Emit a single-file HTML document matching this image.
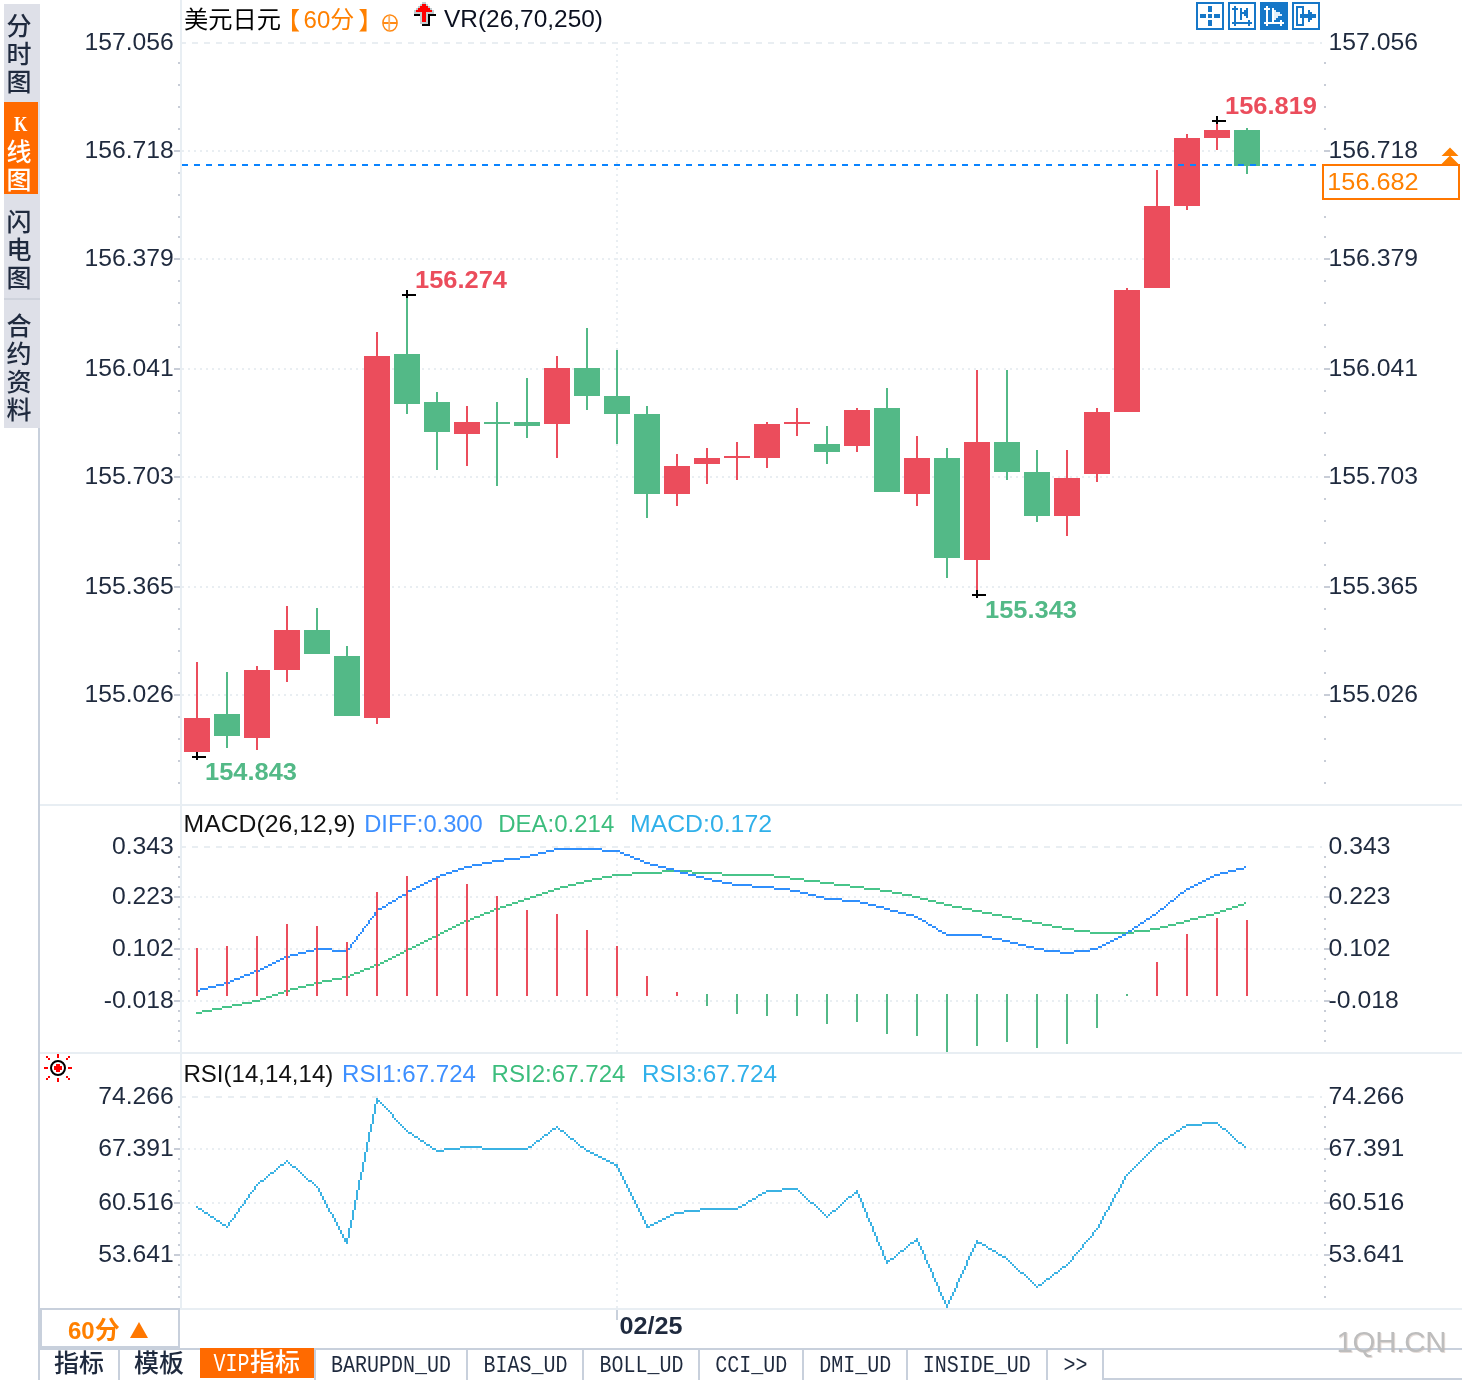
<!DOCTYPE html>
<html lang="zh-CN">
<head>
<meta charset="utf-8">
<title>美元日元 60分 K线图</title>
<style>
html,body{margin:0;padding:0;background:#fff;width:1462px;height:1380px;overflow:hidden;}
.page{width:1462px;height:1380px;position:relative;overflow:hidden;background:#fff;font-family:"Liberation Sans","Noto Sans CJK SC",sans-serif;}
.chart{position:absolute;left:0;top:0;display:block;}
.side{position:absolute;left:4px;top:4px;width:36px;height:424px;background:#dee0e8;margin:0;padding:0;list-style:none;}
.side li{position:absolute;left:0;width:34px;margin:0;padding:0;color:#1f2a3e;font-family:"Liberation Sans","Noto Sans CJK SC",sans-serif;font-size:25px;font-weight:500;line-height:28px;}
.side li span{position:absolute;left:2px;width:26px;height:28px;text-align:center;}
.side li.on{background:#ff6a00;color:#fff;}
.side li i{font:bold 22px/28px "Liberation Serif",serif;display:inline-block;transform:scaleX(.78);position:relative;top:-2.5px;left:1.5px;}
.side li.sep{left:0;width:36px;height:2px;background:#cfd3dc;}
.period{position:absolute;left:38px;top:1308px;width:142px;height:40px;border:solid #c8d0dc;border-width:2px 2px 2px 4px;box-sizing:border-box;background:#fff;color:#ff8000;font-weight:bold;font-size:24px;line-height:28px;white-space:nowrap;}
.period b{position:absolute;left:26px;top:6px;}
.period b span{font-size:25px;font-weight:bold;}
.period i{position:absolute;left:88px;top:12px;width:0;height:0;border-left:9px solid transparent;border-right:9px solid transparent;border-bottom:16px solid #ff7700;}
.tabs{position:absolute;left:38px;top:1348px;height:32px;width:1424px;border-top:2px solid #c8d0dc;box-sizing:border-box;margin:0;padding:0;list-style:none;}
.tabs li{position:absolute;top:0;height:30px;border-left:2px solid #c8d0dc;box-sizing:border-box;font-family:"Liberation Mono","Noto Sans CJK SC",monospace;font-size:24px;line-height:30px;color:#1f2a3e;text-align:center;white-space:nowrap;margin:0;padding:0;}
.tabs li span{display:inline-block;transform:scaleX(.8333);transform-origin:50% 50%;position:relative;top:1px;}
.tabs li.c{font-family:"Liberation Mono","Noto Sans CJK SC",sans-serif;font-size:25px;font-weight:500;}
.tabs li.c span{transform:none;top:1px;}
.tabs li.on{background:#ff6a00;color:#fff;border-left:0;top:-2px;height:30px;}
.tabs li.on span{top:2px;}
.tabs li em{display:inline-block;font-style:normal;transform:scaleX(.8);margin:0 -4.5px;}
.wm{position:absolute;left:1336.5px;top:1325px;font-size:29.5px;line-height:34px;letter-spacing:-.3px;color:#bdbdbd;text-shadow:1px 1px 0 rgba(200,180,170,.45);white-space:nowrap;}
.tabs li.rest{right:0;border-bottom:2px solid #c8d0dc;}
</style>
</head>
<body>
<main class="page">
<svg class="chart" width="1462" height="1380" viewBox="0 0 1462 1380" shape-rendering="crispEdges" font-family='"Liberation Sans", "Noto Sans CJK SC", sans-serif'>
<rect x="40" y="804" width="1422" height="2" fill="#e8eef3"/>
<rect x="40" y="1052" width="1422" height="2" fill="#e8eef3"/>
<rect x="40" y="1308" width="1422" height="2" fill="#e8eef3"/>
<rect x="38" y="428" width="2" height="948" fill="#c8d0dc"/>
<g id="grid">
<path d="M180 43H1322" stroke="#e9eef2" stroke-width="2" stroke-dasharray="6 6" fill="none"/>
<path d="M182 151H1322" stroke="#e9eef2" stroke-width="2" stroke-dasharray="2 4" fill="none"/>
<path d="M182 259H1322" stroke="#e9eef2" stroke-width="2" stroke-dasharray="2 4" fill="none"/>
<path d="M182 369H1322" stroke="#e9eef2" stroke-width="2" stroke-dasharray="2 4" fill="none"/>
<path d="M182 477H1322" stroke="#e9eef2" stroke-width="2" stroke-dasharray="2 4" fill="none"/>
<path d="M182 587H1322" stroke="#e9eef2" stroke-width="2" stroke-dasharray="2 4" fill="none"/>
<path d="M182 695H1322" stroke="#e9eef2" stroke-width="2" stroke-dasharray="2 4" fill="none"/>
<path d="M180 847H1322" stroke="#e9eef2" stroke-width="2" stroke-dasharray="6 6" fill="none"/>
<path d="M182 897H1322" stroke="#e9eef2" stroke-width="2" stroke-dasharray="2 4" fill="none"/>
<path d="M182 949H1322" stroke="#e9eef2" stroke-width="2" stroke-dasharray="2 4" fill="none"/>
<path d="M182 1001H1322" stroke="#e9eef2" stroke-width="2" stroke-dasharray="2 4" fill="none"/>
<path d="M180 1097H1322" stroke="#e9eef2" stroke-width="2" stroke-dasharray="6 6" fill="none"/>
<path d="M182 1149H1322" stroke="#e9eef2" stroke-width="2" stroke-dasharray="2 4" fill="none"/>
<path d="M182 1203H1322" stroke="#e9eef2" stroke-width="2" stroke-dasharray="2 4" fill="none"/>
<path d="M182 1255H1322" stroke="#e9eef2" stroke-width="2" stroke-dasharray="2 4" fill="none"/>
<path d="M617 48V802" stroke="#e9eef2" stroke-width="2" stroke-dasharray="2 4" fill="none"/>
<path d="M617 852V1052" stroke="#e9eef2" stroke-width="2" stroke-dasharray="2 4" fill="none"/>
<path d="M617 1102V1308" stroke="#e9eef2" stroke-width="2" stroke-dasharray="2 4" fill="none"/>
<rect x="616" y="1310" width="2" height="10" fill="#c9d1dc"/>
</g>
<rect x="180" y="0" width="2" height="1308" fill="#e8eef3"/>
<g id="ticks" fill="#c8cdd7">
<rect x="178" y="62" width="2" height="2"/>
<rect x="1324" y="62" width="2" height="2"/>
<rect x="178" y="84" width="2" height="2"/>
<rect x="1324" y="84" width="2" height="2"/>
<rect x="178" y="106" width="2" height="2"/>
<rect x="1324" y="106" width="2" height="2"/>
<rect x="178" y="128" width="2" height="2"/>
<rect x="1324" y="128" width="2" height="2"/>
<rect x="174" y="150" width="6" height="2"/>
<rect x="1324" y="150" width="6" height="2"/>
<rect x="178" y="172" width="2" height="2"/>
<rect x="1324" y="172" width="2" height="2"/>
<rect x="178" y="194" width="2" height="2"/>
<rect x="1324" y="194" width="2" height="2"/>
<rect x="178" y="216" width="2" height="2"/>
<rect x="1324" y="216" width="2" height="2"/>
<rect x="178" y="236" width="2" height="2"/>
<rect x="1324" y="236" width="2" height="2"/>
<rect x="174" y="258" width="6" height="2"/>
<rect x="1324" y="258" width="6" height="2"/>
<rect x="178" y="280" width="2" height="2"/>
<rect x="1324" y="280" width="2" height="2"/>
<rect x="178" y="302" width="2" height="2"/>
<rect x="1324" y="302" width="2" height="2"/>
<rect x="178" y="324" width="2" height="2"/>
<rect x="1324" y="324" width="2" height="2"/>
<rect x="178" y="346" width="2" height="2"/>
<rect x="1324" y="346" width="2" height="2"/>
<rect x="174" y="368" width="6" height="2"/>
<rect x="1324" y="368" width="6" height="2"/>
<rect x="178" y="390" width="2" height="2"/>
<rect x="1324" y="390" width="2" height="2"/>
<rect x="178" y="412" width="2" height="2"/>
<rect x="1324" y="412" width="2" height="2"/>
<rect x="178" y="432" width="2" height="2"/>
<rect x="1324" y="432" width="2" height="2"/>
<rect x="178" y="454" width="2" height="2"/>
<rect x="1324" y="454" width="2" height="2"/>
<rect x="174" y="476" width="6" height="2"/>
<rect x="1324" y="476" width="6" height="2"/>
<rect x="178" y="498" width="2" height="2"/>
<rect x="1324" y="498" width="2" height="2"/>
<rect x="178" y="520" width="2" height="2"/>
<rect x="1324" y="520" width="2" height="2"/>
<rect x="178" y="542" width="2" height="2"/>
<rect x="1324" y="542" width="2" height="2"/>
<rect x="178" y="564" width="2" height="2"/>
<rect x="1324" y="564" width="2" height="2"/>
<rect x="174" y="586" width="6" height="2"/>
<rect x="1324" y="586" width="6" height="2"/>
<rect x="178" y="608" width="2" height="2"/>
<rect x="1324" y="608" width="2" height="2"/>
<rect x="178" y="628" width="2" height="2"/>
<rect x="1324" y="628" width="2" height="2"/>
<rect x="178" y="650" width="2" height="2"/>
<rect x="1324" y="650" width="2" height="2"/>
<rect x="178" y="672" width="2" height="2"/>
<rect x="1324" y="672" width="2" height="2"/>
<rect x="174" y="694" width="6" height="2"/>
<rect x="1324" y="694" width="6" height="2"/>
<rect x="178" y="716" width="2" height="2"/>
<rect x="1324" y="716" width="2" height="2"/>
<rect x="178" y="738" width="2" height="2"/>
<rect x="1324" y="738" width="2" height="2"/>
<rect x="178" y="760" width="2" height="2"/>
<rect x="1324" y="760" width="2" height="2"/>
<rect x="178" y="782" width="2" height="2"/>
<rect x="1324" y="782" width="2" height="2"/>
<rect x="178" y="856" width="2" height="2"/>
<rect x="1324" y="856" width="2" height="2"/>
<rect x="178" y="866" width="2" height="2"/>
<rect x="1324" y="866" width="2" height="2"/>
<rect x="178" y="876" width="2" height="2"/>
<rect x="1324" y="876" width="2" height="2"/>
<rect x="178" y="886" width="2" height="2"/>
<rect x="1324" y="886" width="2" height="2"/>
<rect x="174" y="896" width="6" height="2"/>
<rect x="1324" y="896" width="6" height="2"/>
<rect x="178" y="906" width="2" height="2"/>
<rect x="1324" y="906" width="2" height="2"/>
<rect x="178" y="918" width="2" height="2"/>
<rect x="1324" y="918" width="2" height="2"/>
<rect x="178" y="928" width="2" height="2"/>
<rect x="1324" y="928" width="2" height="2"/>
<rect x="178" y="938" width="2" height="2"/>
<rect x="1324" y="938" width="2" height="2"/>
<rect x="174" y="948" width="6" height="2"/>
<rect x="1324" y="948" width="6" height="2"/>
<rect x="178" y="958" width="2" height="2"/>
<rect x="1324" y="958" width="2" height="2"/>
<rect x="178" y="968" width="2" height="2"/>
<rect x="1324" y="968" width="2" height="2"/>
<rect x="178" y="978" width="2" height="2"/>
<rect x="1324" y="978" width="2" height="2"/>
<rect x="178" y="990" width="2" height="2"/>
<rect x="1324" y="990" width="2" height="2"/>
<rect x="174" y="1000" width="6" height="2"/>
<rect x="1324" y="1000" width="6" height="2"/>
<rect x="178" y="1010" width="2" height="2"/>
<rect x="1324" y="1010" width="2" height="2"/>
<rect x="178" y="1020" width="2" height="2"/>
<rect x="1324" y="1020" width="2" height="2"/>
<rect x="178" y="1030" width="2" height="2"/>
<rect x="1324" y="1030" width="2" height="2"/>
<rect x="178" y="1040" width="2" height="2"/>
<rect x="1324" y="1040" width="2" height="2"/>
<rect x="178" y="1106" width="2" height="2"/>
<rect x="1324" y="1106" width="2" height="2"/>
<rect x="178" y="1116" width="2" height="2"/>
<rect x="1324" y="1116" width="2" height="2"/>
<rect x="178" y="1126" width="2" height="2"/>
<rect x="1324" y="1126" width="2" height="2"/>
<rect x="178" y="1138" width="2" height="2"/>
<rect x="1324" y="1138" width="2" height="2"/>
<rect x="174" y="1148" width="6" height="2"/>
<rect x="1324" y="1148" width="6" height="2"/>
<rect x="178" y="1158" width="2" height="2"/>
<rect x="1324" y="1158" width="2" height="2"/>
<rect x="178" y="1170" width="2" height="2"/>
<rect x="1324" y="1170" width="2" height="2"/>
<rect x="178" y="1180" width="2" height="2"/>
<rect x="1324" y="1180" width="2" height="2"/>
<rect x="178" y="1190" width="2" height="2"/>
<rect x="1324" y="1190" width="2" height="2"/>
<rect x="174" y="1202" width="6" height="2"/>
<rect x="1324" y="1202" width="6" height="2"/>
<rect x="178" y="1212" width="2" height="2"/>
<rect x="1324" y="1212" width="2" height="2"/>
<rect x="178" y="1222" width="2" height="2"/>
<rect x="1324" y="1222" width="2" height="2"/>
<rect x="178" y="1232" width="2" height="2"/>
<rect x="1324" y="1232" width="2" height="2"/>
<rect x="178" y="1244" width="2" height="2"/>
<rect x="1324" y="1244" width="2" height="2"/>
<rect x="174" y="1254" width="6" height="2"/>
<rect x="1324" y="1254" width="6" height="2"/>
<rect x="178" y="1264" width="2" height="2"/>
<rect x="1324" y="1264" width="2" height="2"/>
<rect x="178" y="1276" width="2" height="2"/>
<rect x="1324" y="1276" width="2" height="2"/>
<rect x="178" y="1286" width="2" height="2"/>
<rect x="1324" y="1286" width="2" height="2"/>
<rect x="178" y="1296" width="2" height="2"/>
<rect x="1324" y="1296" width="2" height="2"/>
</g>
<g id="ylabels" font-size="24.4" fill="#1f2a3e">
<text x="84.4269" y="50" textLength="89.3731" lengthAdjust="spacingAndGlyphs">157.056</text>
<text x="1328.6" y="50" textLength="89.3731" lengthAdjust="spacingAndGlyphs">157.056</text>
<text x="84.4269" y="158" textLength="89.3731" lengthAdjust="spacingAndGlyphs">156.718</text>
<text x="1328.6" y="158" textLength="89.3731" lengthAdjust="spacingAndGlyphs">156.718</text>
<text x="84.4269" y="266" textLength="89.3731" lengthAdjust="spacingAndGlyphs">156.379</text>
<text x="1328.6" y="266" textLength="89.3731" lengthAdjust="spacingAndGlyphs">156.379</text>
<text x="84.4269" y="376" textLength="89.3731" lengthAdjust="spacingAndGlyphs">156.041</text>
<text x="1328.6" y="376" textLength="89.3731" lengthAdjust="spacingAndGlyphs">156.041</text>
<text x="84.4269" y="484" textLength="89.3731" lengthAdjust="spacingAndGlyphs">155.703</text>
<text x="1328.6" y="484" textLength="89.3731" lengthAdjust="spacingAndGlyphs">155.703</text>
<text x="84.4269" y="594" textLength="89.3731" lengthAdjust="spacingAndGlyphs">155.365</text>
<text x="1328.6" y="594" textLength="89.3731" lengthAdjust="spacingAndGlyphs">155.365</text>
<text x="84.4269" y="702" textLength="89.3731" lengthAdjust="spacingAndGlyphs">155.026</text>
<text x="1328.6" y="702" textLength="89.3731" lengthAdjust="spacingAndGlyphs">155.026</text>
<text x="111.928" y="854" textLength="61.8721" lengthAdjust="spacingAndGlyphs">0.343</text>
<text x="1328.6" y="854" textLength="61.8721" lengthAdjust="spacingAndGlyphs">0.343</text>
<text x="111.928" y="904" textLength="61.8721" lengthAdjust="spacingAndGlyphs">0.223</text>
<text x="1328.6" y="904" textLength="61.8721" lengthAdjust="spacingAndGlyphs">0.223</text>
<text x="111.928" y="956" textLength="61.8721" lengthAdjust="spacingAndGlyphs">0.102</text>
<text x="1328.6" y="956" textLength="61.8721" lengthAdjust="spacingAndGlyphs">0.102</text>
<text x="103.688" y="1008" textLength="70.1121" lengthAdjust="spacingAndGlyphs">-0.018</text>
<text x="1328.6" y="1008" textLength="70.1121" lengthAdjust="spacingAndGlyphs">-0.018</text>
<text x="98.1774" y="1104" textLength="75.6226" lengthAdjust="spacingAndGlyphs">74.266</text>
<text x="1328.6" y="1104" textLength="75.6226" lengthAdjust="spacingAndGlyphs">74.266</text>
<text x="98.1774" y="1156" textLength="75.6226" lengthAdjust="spacingAndGlyphs">67.391</text>
<text x="1328.6" y="1156" textLength="75.6226" lengthAdjust="spacingAndGlyphs">67.391</text>
<text x="98.1774" y="1210" textLength="75.6226" lengthAdjust="spacingAndGlyphs">60.516</text>
<text x="1328.6" y="1210" textLength="75.6226" lengthAdjust="spacingAndGlyphs">60.516</text>
<text x="98.1774" y="1262" textLength="75.6226" lengthAdjust="spacingAndGlyphs">53.641</text>
<text x="1328.6" y="1262" textLength="75.6226" lengthAdjust="spacingAndGlyphs">53.641</text>
</g>
<g id="candles">
<path fill="#eb4d5c" d="M196 662h2v94h-2zM184 718h26v34h-26z"/>
<path fill="#53b987" d="M226 672h2v76h-2zM214 714h26v22h-26z"/>
<path fill="#eb4d5c" d="M256 666h2v84h-2zM244 670h26v68h-26z"/>
<path fill="#eb4d5c" d="M286 606h2v76h-2zM274 630h26v40h-26z"/>
<path fill="#53b987" d="M316 608h2v46h-2zM304 630h26v24h-26z"/>
<path fill="#53b987" d="M346 646h2v70h-2zM334 656h26v60h-26z"/>
<path fill="#eb4d5c" d="M376 332h2v392h-2zM364 356h26v362h-26z"/>
<path fill="#53b987" d="M406 296h2v118h-2zM394 354h26v50h-26z"/>
<path fill="#53b987" d="M436 392h2v78h-2zM424 402h26v30h-26z"/>
<path fill="#eb4d5c" d="M466 406h2v60h-2zM454 422h26v12h-26z"/>
<path fill="#53b987" d="M496 402h2v84h-2zM484 422h26v2h-26z"/>
<path fill="#53b987" d="M526 378h2v60h-2zM514 422h26v4h-26z"/>
<path fill="#eb4d5c" d="M556 356h2v102h-2zM544 368h26v56h-26z"/>
<path fill="#53b987" d="M586 328h2v82h-2zM574 368h26v28h-26z"/>
<path fill="#53b987" d="M616 350h2v94h-2zM604 396h26v18h-26z"/>
<path fill="#53b987" d="M646 406h2v112h-2zM634 414h26v80h-26z"/>
<path fill="#eb4d5c" d="M676 454h2v52h-2zM664 466h26v28h-26z"/>
<path fill="#eb4d5c" d="M706 448h2v36h-2zM694 458h26v6h-26z"/>
<path fill="#eb4d5c" d="M736 442h2v38h-2zM724 456h26v2h-26z"/>
<path fill="#eb4d5c" d="M766 422h2v46h-2zM754 424h26v34h-26z"/>
<path fill="#eb4d5c" d="M796 408h2v28h-2zM784 422h26v2h-26z"/>
<path fill="#53b987" d="M826 426h2v38h-2zM814 444h26v8h-26z"/>
<path fill="#eb4d5c" d="M856 408h2v44h-2zM844 410h26v36h-26z"/>
<path fill="#53b987" d="M886 388h2v104h-2zM874 408h26v84h-26z"/>
<path fill="#eb4d5c" d="M916 436h2v70h-2zM904 458h26v36h-26z"/>
<path fill="#53b987" d="M946 448h2v130h-2zM934 458h26v100h-26z"/>
<path fill="#eb4d5c" d="M976 370h2v224h-2zM964 442h26v118h-26z"/>
<path fill="#53b987" d="M1006 370h2v110h-2zM994 442h26v30h-26z"/>
<path fill="#53b987" d="M1036 450h2v72h-2zM1024 472h26v44h-26z"/>
<path fill="#eb4d5c" d="M1066 450h2v86h-2zM1054 478h26v38h-26z"/>
<path fill="#eb4d5c" d="M1096 408h2v74h-2zM1084 412h26v62h-26z"/>
<path fill="#eb4d5c" d="M1126 288h2v124h-2zM1114 290h26v122h-26z"/>
<path fill="#eb4d5c" d="M1156 170h2v118h-2zM1144 206h26v82h-26z"/>
<path fill="#eb4d5c" d="M1186 134h2v76h-2zM1174 138h26v68h-26z"/>
<path fill="#eb4d5c" d="M1216 122h2v28h-2zM1204 130h26v8h-26z"/>
<path fill="#53b987" d="M1246 128h2v46h-2zM1234 130h26v36h-26z"/>
</g>
<path d="M182 165H1318" stroke="#0a84ff" stroke-width="2" stroke-dasharray="6 6" fill="none"/>
<g id="marks" fill="#000">
<path d="M402 294h14v2h-14zM406 290h2v8h-2z"/>
<path d="M192 756h14v2h-14zM196 752h2v8h-2z"/>
<path d="M972 594h14v2h-14zM976 590h2v8h-2z"/>
<path d="M1212 120h14v2h-14zM1216 116h2v8h-2z"/>
</g>
<text x="415" y="288" font-size="24" fill="#eb4d5c" font-weight="bold" textLength="92" lengthAdjust="spacingAndGlyphs">156.274</text>
<text x="205" y="780" font-size="24" fill="#53b987" font-weight="bold" textLength="92" lengthAdjust="spacingAndGlyphs">154.843</text>
<text x="985" y="618" font-size="24" fill="#53b987" font-weight="bold" textLength="92" lengthAdjust="spacingAndGlyphs">155.343</text>
<text x="1225" y="114" font-size="24" fill="#eb4d5c" font-weight="bold" textLength="92" lengthAdjust="spacingAndGlyphs">156.819</text>
<rect x="1323" y="165" width="136" height="34" fill="#fff" stroke="#ff7700" stroke-width="2"/>
<text x="1327.3" y="190" font-size="24" fill="#ff8000" textLength="91.3" lengthAdjust="spacingAndGlyphs">156.682</text>
<path fill="#ff8000" shape-rendering="auto" d="M1450 147.5l8.5 8.5h-17zM1450 155.5l8.5 8.5h-17z"/>
<g id="macd">
<path fill="#48c48a" d="M196 1012h6v2h-6zM202 1010h10v2h-10zM212 1008h10v2h-10zM222 1006h10v2h-10zM232 1004h10v2h-10zM242 1002h10v2h-10zM252 1000h8v2h-8zM260 998h6v2h-6zM266 996h6v2h-6zM272 994h6v2h-6zM278 992h6v2h-6zM284 990h6v2h-6zM290 988h8v2h-8zM298 986h8v2h-8zM306 984h8v2h-8zM314 982h8v2h-8zM322 980h10v2h-10zM332 978h10v2h-10zM342 976h8v2h-8zM350 974h4v2h-4zM354 972h6v2h-6zM360 970h4v2h-4zM364 968h6v2h-6zM370 966h4v2h-4zM374 964h6v2h-6zM380 962h4v2h-4zM384 960h4v2h-4zM388 958h4v2h-4zM392 956h4v2h-4zM396 954h4v2h-4zM400 952h4v2h-4zM404 950h4v2h-4zM408 948h4v2h-4zM412 946h4v2h-4zM416 944h4v2h-4zM420 942h4v2h-4zM424 940h4v2h-4zM428 938h4v2h-4zM432 936h4v2h-4zM436 934h4v2h-4zM440 932h4v2h-4zM444 930h4v2h-4zM448 928h4v2h-4zM452 926h4v2h-4zM456 924h4v2h-4zM460 922h4v2h-4zM464 920h6v2h-6zM470 918h4v2h-4zM474 916h6v2h-6zM480 914h4v2h-4zM484 912h6v2h-6zM490 910h4v2h-4zM494 908h6v2h-6zM500 906h6v2h-6zM506 904h6v2h-6zM512 902h6v2h-6zM518 900h6v2h-6zM524 898h6v2h-6zM530 896h6v2h-6zM536 894h6v2h-6zM542 892h6v2h-6zM548 890h6v2h-6zM554 888h6v2h-6zM560 886h8v2h-8zM568 884h8v2h-8zM576 882h8v2h-8zM584 880h8v2h-8zM592 878h10v2h-10zM602 876h10v2h-10zM612 874h20v2h-20zM632 872h30v2h-30zM662 870h30v2h-30zM692 872h30v2h-30zM722 874h52v2h-52zM774 876h16v2h-16zM790 878h14v2h-14zM804 880h16v2h-16zM820 882h14v2h-14zM834 884h16v2h-16zM850 886h14v2h-14zM864 888h16v2h-16zM880 890h12v2h-12zM892 892h10v2h-10zM902 894h10v2h-10zM912 896h8v2h-8zM920 898h8v2h-8zM928 900h8v2h-8zM936 902h8v2h-8zM944 904h8v2h-8zM952 906h10v2h-10zM962 908h10v2h-10zM972 910h10v2h-10zM982 912h10v2h-10zM992 914h10v2h-10zM1002 916h10v2h-10zM1012 918h10v2h-10zM1022 920h10v2h-10zM1032 922h10v2h-10zM1042 924h10v2h-10zM1052 926h10v2h-10zM1062 928h12v2h-12zM1074 930h16v2h-16zM1090 932h44v2h-44zM1134 930h16v2h-16zM1150 928h10v2h-10zM1160 926h8v2h-8zM1168 924h8v2h-8zM1176 922h8v2h-8zM1184 920h6v2h-6zM1190 918h8v2h-8zM1198 916h8v2h-8zM1206 914h8v2h-8zM1214 912h6v2h-6zM1220 910h6v2h-6zM1226 908h6v2h-6zM1232 906h6v2h-6zM1238 904h6v2h-6zM1244 902h2v2h-2z"/>
<path fill="#308ffc" d="M196 990h4v2h-4zM200 988h8v2h-8zM208 986h8v2h-8zM216 984h8v2h-8zM224 982h6v2h-6zM230 980h4v2h-4zM234 978h6v2h-6zM240 976h4v2h-4zM244 974h6v2h-6zM250 972h4v2h-4zM254 970h6v2h-6zM260 968h4v2h-4zM264 966h4v2h-4zM268 964h4v2h-4zM272 962h4v2h-4zM276 960h4v2h-4zM280 958h4v2h-4zM284 956h6v2h-6zM290 954h8v2h-8zM298 952h8v2h-8zM306 950h8v2h-8zM314 948h18v2h-18zM332 950h16v2h-16zM348 948h2v2h-2zM350 944h2v4h-2zM352 942h2v2h-2zM354 940h2v2h-2zM356 936h2v4h-2zM358 934h2v2h-2zM360 932h2v2h-2zM362 928h2v4h-2zM364 926h2v2h-2zM366 924h2v2h-2zM368 920h2v4h-2zM370 918h2v2h-2zM372 916h2v2h-2zM374 912h2v4h-2zM376 910h2v2h-2zM378 908h4v2h-4zM382 906h4v2h-4zM386 904h2v2h-2zM388 902h4v2h-4zM392 900h4v2h-4zM396 898h2v2h-2zM398 896h4v2h-4zM402 894h4v2h-4zM406 892h2v2h-2zM408 890h4v2h-4zM412 888h4v2h-4zM416 886h4v2h-4zM420 884h4v2h-4zM424 882h4v2h-4zM428 880h4v2h-4zM432 878h4v2h-4zM436 876h4v2h-4zM440 874h6v2h-6zM446 872h6v2h-6zM452 870h6v2h-6zM458 868h6v2h-6zM464 866h8v2h-8zM472 864h10v2h-10zM482 862h10v2h-10zM492 860h12v2h-12zM504 858h16v2h-16zM520 856h10v2h-10zM530 854h8v2h-8zM538 852h8v2h-8zM546 850h8v2h-8zM554 848h48v2h-48zM602 850h18v2h-18zM620 852h4v2h-4zM624 854h6v2h-6zM630 856h4v2h-4zM634 858h6v2h-6zM640 860h4v2h-4zM644 862h6v2h-6zM650 864h8v2h-8zM658 866h8v2h-8zM666 868h8v2h-8zM674 870h6v2h-6zM680 872h8v2h-8zM688 874h8v2h-8zM696 876h8v2h-8zM704 878h8v2h-8zM712 880h10v2h-10zM722 882h10v2h-10zM732 884h20v2h-20zM752 886h22v2h-22zM774 888h16v2h-16zM790 890h10v2h-10zM800 892h8v2h-8zM808 894h8v2h-8zM816 896h8v2h-8zM824 898h18v2h-18zM842 900h18v2h-18zM860 902h8v2h-8zM868 904h8v2h-8zM876 906h8v2h-8zM884 908h6v2h-6zM890 910h8v2h-8zM898 912h8v2h-8zM906 914h8v2h-8zM914 916h4v2h-4zM918 918h4v2h-4zM922 920h4v2h-4zM926 922h2v2h-2zM928 924h4v2h-4zM932 926h4v2h-4zM936 928h2v2h-2zM938 930h4v2h-4zM942 932h4v2h-4zM946 934h36v2h-36zM982 936h10v2h-10zM992 938h10v2h-10zM1002 940h8v2h-8zM1010 942h8v2h-8zM1018 944h8v2h-8zM1026 946h8v2h-8zM1034 948h10v2h-10zM1044 950h16v2h-16zM1060 952h14v2h-14zM1074 950h16v2h-16zM1090 948h8v2h-8zM1098 946h4v2h-4zM1102 944h4v2h-4zM1106 942h4v2h-4zM1110 940h4v2h-4zM1114 938h4v2h-4zM1118 936h4v2h-4zM1122 934h4v2h-4zM1126 932h2v2h-2zM1128 930h4v2h-4zM1132 928h2v2h-2zM1134 926h4v2h-4zM1138 924h2v2h-2zM1140 922h4v2h-4zM1144 920h2v2h-2zM1146 918h4v2h-4zM1150 916h2v2h-2zM1152 914h4v2h-4zM1156 912h2v2h-2zM1158 910h2v2h-2zM1160 908h4v2h-4zM1164 906h2v2h-2zM1166 904h2v2h-2zM1168 902h2v2h-2zM1170 900h4v2h-4zM1174 898h2v2h-2zM1176 896h2v2h-2zM1178 894h2v2h-2zM1180 892h4v2h-4zM1184 890h2v2h-2zM1186 888h4v2h-4zM1190 886h4v2h-4zM1194 884h4v2h-4zM1198 882h4v2h-4zM1202 880h4v2h-4zM1206 878h4v2h-4zM1210 876h4v2h-4zM1214 874h6v2h-6zM1220 872h8v2h-8zM1228 870h8v2h-8zM1236 868h8v2h-8zM1244 866h2v2h-2z"/>
<rect x="196" y="948" width="2" height="48" fill="#eb4d5c"/>
<rect x="226" y="946" width="2" height="50" fill="#eb4d5c"/>
<rect x="256" y="936" width="2" height="60" fill="#eb4d5c"/>
<rect x="286" y="924" width="2" height="72" fill="#eb4d5c"/>
<rect x="316" y="926" width="2" height="70" fill="#eb4d5c"/>
<rect x="346" y="942" width="2" height="54" fill="#eb4d5c"/>
<rect x="376" y="892" width="2" height="104" fill="#eb4d5c"/>
<rect x="406" y="876" width="2" height="120" fill="#eb4d5c"/>
<rect x="436" y="878" width="2" height="118" fill="#eb4d5c"/>
<rect x="466" y="884" width="2" height="112" fill="#eb4d5c"/>
<rect x="496" y="896" width="2" height="100" fill="#eb4d5c"/>
<rect x="526" y="910" width="2" height="86" fill="#eb4d5c"/>
<rect x="556" y="914" width="2" height="82" fill="#eb4d5c"/>
<rect x="586" y="930" width="2" height="66" fill="#eb4d5c"/>
<rect x="616" y="946" width="2" height="50" fill="#eb4d5c"/>
<rect x="646" y="976" width="2" height="20" fill="#eb4d5c"/>
<rect x="676" y="992" width="2" height="4" fill="#eb4d5c"/>
<rect x="706" y="994" width="2" height="12" fill="#53b987"/>
<rect x="736" y="994" width="2" height="20" fill="#53b987"/>
<rect x="766" y="994" width="2" height="22" fill="#53b987"/>
<rect x="796" y="994" width="2" height="22" fill="#53b987"/>
<rect x="826" y="994" width="2" height="30" fill="#53b987"/>
<rect x="856" y="994" width="2" height="28" fill="#53b987"/>
<rect x="886" y="994" width="2" height="40" fill="#53b987"/>
<rect x="916" y="994" width="2" height="42" fill="#53b987"/>
<rect x="946" y="994" width="2" height="58" fill="#53b987"/>
<rect x="976" y="994" width="2" height="52" fill="#53b987"/>
<rect x="1006" y="994" width="2" height="48" fill="#53b987"/>
<rect x="1036" y="994" width="2" height="54" fill="#53b987"/>
<rect x="1066" y="994" width="2" height="50" fill="#53b987"/>
<rect x="1096" y="994" width="2" height="34" fill="#53b987"/>
<rect x="1126" y="994" width="2" height="2" fill="#53b987"/>
<rect x="1156" y="962" width="2" height="34" fill="#eb4d5c"/>
<rect x="1186" y="934" width="2" height="62" fill="#eb4d5c"/>
<rect x="1216" y="918" width="2" height="78" fill="#eb4d5c"/>
<rect x="1246" y="920" width="2" height="76" fill="#eb4d5c"/>
</g>
<g id="rsi">
<path fill="#3bb2e3" d="M196 1206h2v2h-2zM198 1208h4v2h-4zM202 1210h2v2h-2zM204 1212h4v2h-4zM208 1214h2v2h-2zM210 1216h4v2h-4zM214 1218h2v2h-2zM216 1220h4v2h-4zM220 1222h2v2h-2zM222 1224h4v2h-4zM226 1226h2v2h-2zM228 1222h2v4h-2zM230 1220h2v2h-2zM232 1218h2v2h-2zM234 1214h2v4h-2zM236 1212h2v2h-2zM238 1208h2v4h-2zM240 1206h2v2h-2zM242 1204h2v2h-2zM244 1200h2v4h-2zM246 1198h2v2h-2zM248 1194h2v4h-2zM250 1192h2v2h-2zM252 1190h2v2h-2zM254 1186h2v4h-2zM256 1184h2v2h-2zM258 1182h2v2h-2zM260 1180h4v2h-4zM264 1178h2v2h-2zM266 1176h2v2h-2zM268 1174h2v2h-2zM270 1172h4v2h-4zM274 1170h2v2h-2zM276 1168h2v2h-2zM278 1166h2v2h-2zM280 1164h4v2h-4zM284 1162h2v2h-2zM286 1160h2v2h-2zM288 1162h2v2h-2zM290 1164h2v2h-2zM292 1166h4v2h-4zM296 1168h2v2h-2zM298 1170h2v2h-2zM300 1172h2v2h-2zM302 1174h2v2h-2zM304 1176h2v2h-2zM306 1178h2v2h-2zM308 1180h4v2h-4zM312 1182h2v2h-2zM314 1184h2v2h-2zM316 1186h2v2h-2zM318 1188h2v4h-2zM320 1192h2v4h-2zM322 1196h2v4h-2zM324 1200h2v4h-2zM326 1204h2v4h-2zM328 1208h2v4h-2zM330 1212h2v2h-2zM332 1214h2v4h-2zM334 1218h2v4h-2zM336 1222h2v4h-2zM338 1226h2v4h-2zM340 1230h2v4h-2zM342 1234h2v4h-2zM344 1238h4v4h-4zM346 1242h2v2h-2zM348 1228h2v10h-2zM350 1220h2v8h-2zM352 1210h2v10h-2zM354 1200h2v10h-2zM356 1190h2v10h-2zM358 1180h2v10h-2zM360 1172h2v8h-2zM362 1162h2v10h-2zM364 1152h2v10h-2zM366 1142h2v10h-2zM368 1132h2v10h-2zM370 1124h2v8h-2zM372 1114h2v10h-2zM374 1104h2v10h-2zM376 1098h2v2h-2zM376 1102h2v2h-2zM376 1100h4v2h-4zM380 1102h2v2h-2zM382 1104h2v2h-2zM384 1106h2v2h-2zM386 1108h2v2h-2zM388 1110h2v2h-2zM390 1112h2v2h-2zM392 1114h2v4h-2zM394 1118h2v2h-2zM396 1120h2v2h-2zM398 1122h2v2h-2zM400 1124h2v2h-2zM402 1126h2v2h-2zM404 1128h2v2h-2zM406 1130h2v2h-2zM408 1132h4v2h-4zM412 1134h2v2h-2zM414 1136h4v2h-4zM418 1138h2v2h-2zM420 1140h4v2h-4zM424 1142h2v2h-2zM426 1144h4v2h-4zM430 1146h2v2h-2zM432 1148h4v2h-4zM436 1150h8v2h-8zM444 1148h16v2h-16zM460 1146h22v2h-22zM482 1148h46v2h-46zM528 1146h4v2h-4zM532 1144h2v2h-2zM534 1142h2v2h-2zM536 1140h4v2h-4zM540 1138h2v2h-2zM542 1136h2v2h-2zM544 1134h4v2h-4zM548 1132h2v2h-2zM550 1130h2v2h-2zM552 1128h4v2h-4zM556 1126h2v2h-2zM558 1128h2v2h-2zM560 1130h4v2h-4zM564 1132h2v2h-2zM566 1134h2v2h-2zM568 1136h2v2h-2zM570 1138h4v2h-4zM574 1140h2v2h-2zM576 1142h2v2h-2zM578 1144h2v2h-2zM580 1146h4v2h-4zM584 1148h2v2h-2zM586 1150h4v2h-4zM590 1152h4v2h-4zM594 1154h4v2h-4zM598 1156h4v2h-4zM602 1158h4v2h-4zM606 1160h4v2h-4zM610 1162h4v2h-4zM614 1164h4v2h-4zM616 1166h2v2h-2zM618 1168h2v4h-2zM620 1172h2v4h-2zM622 1176h2v4h-2zM624 1180h2v4h-2zM626 1184h2v4h-2zM628 1188h2v4h-2zM630 1192h2v4h-2zM632 1196h2v4h-2zM634 1200h2v4h-2zM636 1204h2v4h-2zM638 1208h2v4h-2zM640 1212h2v4h-2zM642 1216h2v4h-2zM644 1220h2v4h-2zM646 1224h2v2h-2zM646 1226h4v2h-4zM650 1224h4v2h-4zM654 1222h4v2h-4zM658 1220h4v2h-4zM662 1218h4v2h-4zM666 1216h4v2h-4zM670 1214h4v2h-4zM674 1212h10v2h-10zM684 1210h16v2h-16zM700 1208h38v2h-38zM738 1206h4v2h-4zM742 1204h4v2h-4zM746 1202h2v2h-2zM748 1200h4v2h-4zM752 1198h4v2h-4zM756 1196h2v2h-2zM758 1194h4v2h-4zM762 1192h4v2h-4zM766 1190h16v2h-16zM782 1188h16v2h-16zM798 1190h2v2h-2zM800 1192h2v2h-2zM802 1194h2v2h-2zM804 1196h2v2h-2zM806 1198h2v2h-2zM808 1200h2v2h-2zM810 1202h4v2h-4zM814 1204h2v2h-2zM816 1206h2v2h-2zM818 1208h2v2h-2zM820 1210h2v2h-2zM822 1212h2v2h-2zM824 1214h2v2h-2zM826 1216h2v2h-2zM828 1214h2v2h-2zM830 1212h2v2h-2zM832 1210h4v2h-4zM836 1208h2v2h-2zM838 1206h2v2h-2zM840 1204h2v2h-2zM842 1202h2v2h-2zM844 1200h2v2h-2zM846 1198h2v2h-2zM848 1196h4v2h-4zM852 1194h2v2h-2zM854 1192h4v2h-4zM856 1190h2v2h-2zM858 1194h2v4h-2zM860 1198h2v4h-2zM862 1202h2v6h-2zM864 1208h2v4h-2zM866 1212h2v6h-2zM868 1218h2v4h-2zM870 1222h2v4h-2zM872 1226h2v6h-2zM874 1232h2v4h-2zM876 1236h2v6h-2zM878 1242h2v4h-2zM880 1246h2v4h-2zM882 1250h2v6h-2zM884 1256h2v4h-2zM886 1262h2v2h-2zM886 1260h4v2h-4zM890 1258h4v2h-4zM894 1256h2v2h-2zM896 1254h2v2h-2zM898 1252h2v2h-2zM900 1250h4v2h-4zM904 1248h2v2h-2zM906 1246h2v2h-2zM908 1244h2v2h-2zM910 1242h4v2h-4zM914 1240h4v2h-4zM916 1238h2v2h-2zM918 1242h2v4h-2zM920 1246h2v4h-2zM922 1250h2v4h-2zM924 1254h2v6h-2zM926 1260h2v4h-2zM928 1264h2v4h-2zM930 1268h2v4h-2zM932 1272h2v6h-2zM934 1278h2v4h-2zM936 1282h2v4h-2zM938 1286h2v6h-2zM940 1292h2v4h-2zM942 1296h2v4h-2zM944 1300h2v4h-2zM946 1304h2v4h-2zM948 1300h2v4h-2zM950 1296h2v4h-2zM952 1292h2v4h-2zM954 1288h2v4h-2zM956 1282h2v6h-2zM958 1278h2v4h-2zM960 1274h2v4h-2zM962 1270h2v4h-2zM964 1266h2v4h-2zM966 1260h2v6h-2zM968 1256h2v4h-2zM970 1252h2v4h-2zM972 1248h2v4h-2zM974 1244h2v4h-2zM976 1240h2v2h-2zM976 1242h6v2h-6zM982 1244h4v2h-4zM986 1246h2v2h-2zM988 1248h4v2h-4zM992 1250h4v2h-4zM996 1252h2v2h-2zM998 1254h4v2h-4zM1002 1256h4v2h-4zM1006 1258h2v2h-2zM1008 1260h2v2h-2zM1010 1262h2v2h-2zM1012 1264h2v2h-2zM1014 1266h2v2h-2zM1016 1268h2v2h-2zM1018 1270h2v2h-2zM1020 1272h4v2h-4zM1024 1274h2v2h-2zM1026 1276h2v2h-2zM1028 1278h2v2h-2zM1030 1280h2v2h-2zM1032 1282h2v2h-2zM1034 1284h2v2h-2zM1036 1286h2v2h-2zM1038 1284h4v2h-4zM1042 1282h2v2h-2zM1044 1280h2v2h-2zM1046 1278h4v2h-4zM1050 1276h2v2h-2zM1052 1274h2v2h-2zM1054 1272h4v2h-4zM1058 1270h2v2h-2zM1060 1268h2v2h-2zM1062 1266h4v2h-4zM1066 1264h2v2h-2zM1068 1262h2v2h-2zM1070 1260h2v2h-2zM1072 1256h2v4h-2zM1074 1254h2v2h-2zM1076 1252h2v2h-2zM1078 1250h2v2h-2zM1080 1248h2v2h-2zM1082 1244h2v4h-2zM1084 1242h2v2h-2zM1086 1240h2v2h-2zM1088 1238h2v2h-2zM1090 1236h2v2h-2zM1092 1232h2v4h-2zM1094 1230h2v2h-2zM1096 1228h2v2h-2zM1098 1224h2v4h-2zM1100 1220h2v4h-2zM1102 1216h2v4h-2zM1104 1212h2v4h-2zM1106 1210h2v2h-2zM1108 1206h2v4h-2zM1110 1202h2v4h-2zM1112 1198h2v4h-2zM1114 1194h2v4h-2zM1116 1192h2v2h-2zM1118 1188h2v4h-2zM1120 1184h2v4h-2zM1122 1180h2v4h-2zM1124 1176h2v4h-2zM1126 1174h2v2h-2zM1128 1172h2v2h-2zM1130 1170h2v2h-2zM1132 1168h2v2h-2zM1134 1166h2v2h-2zM1136 1164h2v2h-2zM1138 1162h2v2h-2zM1140 1160h2v2h-2zM1142 1158h2v2h-2zM1144 1156h2v2h-2zM1146 1154h2v2h-2zM1148 1152h2v2h-2zM1150 1150h2v2h-2zM1152 1148h2v2h-2zM1154 1146h2v2h-2zM1156 1144h2v2h-2zM1158 1142h4v2h-4zM1162 1140h2v2h-2zM1164 1138h4v2h-4zM1168 1136h2v2h-2zM1170 1134h4v2h-4zM1174 1132h2v2h-2zM1176 1130h4v2h-4zM1180 1128h2v2h-2zM1182 1126h4v2h-4zM1186 1124h16v2h-16zM1202 1122h16v2h-16zM1218 1124h2v2h-2zM1220 1126h2v2h-2zM1222 1128h4v2h-4zM1226 1130h2v2h-2zM1228 1132h2v2h-2zM1230 1134h2v2h-2zM1232 1136h2v2h-2zM1234 1138h2v2h-2zM1236 1140h2v2h-2zM1238 1142h4v2h-4zM1242 1144h2v2h-2zM1244 1146h2v2h-2z"/>
</g>
<text x="184" y="28" font-size="24" fill="#000" textLength="97" lengthAdjust="spacingAndGlyphs">美元日元</text>
<text y="28" font-size="24" fill="#ff8000"><tspan x="276" y="29">【</tspan><tspan x="303.6" y="28">60分</tspan><tspan x="358.4" y="29">】</tspan></text>
<g shape-rendering="auto" stroke="#ff8a14" stroke-width="1.5" fill="none"><ellipse cx="390" cy="23" rx="7.1" ry="8.1"/><path d="M383 23h14" stroke-width="2"/><path d="M389.2 15.5v15" stroke="#ffb060" stroke-width="1.8"/></g>
<g id="uparrow"><path fill="#c3cdd0" d="M422 2h4v2h-4zM420 4h8v2h-8zM418 6h12v2h-12zM416 8h16v2h-16zM414 10h20v4h-20zM420 14h8v10h-8z"/><path fill="#000" d="M414 14h6v2h-6zM428 14h8v2h-8zM428 16h2v10h-2zM422 24h8v2h-8z"/><path fill="#f00" d="M422 4h4v2h-4zM420 6h8v2h-8zM418 8h12v2h-12zM416 10h16v2h-16zM422 12h4v10h-4z"/></g>
<text x="444" y="27" font-size="24" fill="#0b1020" textLength="159" lengthAdjust="spacingAndGlyphs">VR(26,70,250)</text>
<text x="183.6" y="831.5" font-size="24" fill="#111" textLength="172" lengthAdjust="spacingAndGlyphs">MACD(26,12,9)</text>
<text x="364.2" y="831.7" font-size="24" fill="#3d8fff" textLength="118.5" lengthAdjust="spacingAndGlyphs">DIFF:0.300</text>
<text x="498.3" y="831.7" font-size="24" fill="#3cbd7d" textLength="116" lengthAdjust="spacingAndGlyphs">DEA:0.214</text>
<text x="630" y="831.7" font-size="24" fill="#30b0ea" textLength="142" lengthAdjust="spacingAndGlyphs">MACD:0.172</text>
<text x="183.4" y="1081.7" font-size="24" fill="#111" textLength="150" lengthAdjust="spacingAndGlyphs">RSI(14,14,14)</text>
<text x="342" y="1081.7" font-size="24" fill="#3d8fff" textLength="134" lengthAdjust="spacingAndGlyphs">RSI1:67.724</text>
<text x="491.5" y="1081.7" font-size="24" fill="#3cbd7d" textLength="134" lengthAdjust="spacingAndGlyphs">RSI2:67.724</text>
<text x="642" y="1081.7" font-size="24" fill="#30b0ea" textLength="135" lengthAdjust="spacingAndGlyphs">RSI3:67.724</text>
<text x="619.6" y="1334" font-size="24" fill="#1f2a3e" font-weight="bold" textLength="63" lengthAdjust="spacingAndGlyphs">02/25</text>
<g id="tools">
<rect x="1197" y="3" width="26" height="26" fill="#fff" stroke="#1677c8" stroke-width="2"/>
<rect x="1229" y="3" width="26" height="26" fill="#fff" stroke="#1677c8" stroke-width="2"/>
<rect x="1260" y="2" width="28" height="28" fill="#1677c8"/>
<rect x="1293" y="3" width="26" height="26" fill="#fff" stroke="#1677c8" stroke-width="2"/>
<path fill="#1677c8" d="M1208 6h4v6h-4zM1208 14h4v4h-4zM1208 20h4v6h-4zM1200 14h6v4h-6zM1214 14h6v4h-6z"/>
<path fill="#1677c8" d="M1234 6h2v20h-2zM1232 22h20v2h-20zM1232 8h6v2h-6zM1248 20h2v6h-2zM1240 8h2v12h-2zM1242 12h2v2h-2zM1244 10h2v6h-2zM1246 8h2v10h-2z"/>
<path fill="#fff" d="M1266 6h2v20h-2zM1264 22h20v2h-20zM1264 8h6v2h-6zM1280 20h2v6h-2zM1272 8h2v14h-2z"/>
<path fill="#e4effa" d="M1274 10h2v10h-2zM1276 12h2v6h-2zM1278 12h2v4h-2zM1280 14h2v2h-2z"/>
<path fill="#1677c8" d="M1296 6h8v2h-8zM1296 24h8v2h-8zM1296 6h2v20h-2zM1302 6h2v8h-2zM1302 18h2v8h-2zM1300 14h14v4h-14zM1308 10h2v12h-2zM1310 12h2v8h-2zM1312 14h4v4h-4z"/>
</g>
<g id="sun"><circle cx="58" cy="1068" r="7" fill="none" stroke="#000" stroke-width="2" shape-rendering="auto"/><path fill="#f00" d="M54 1066h8v4h-8zM56 1064h4v8h-4zM57 1054h2v4h-2zM57 1078h2v4h-2zM44 1067h4v2h-4zM68 1067h4v2h-4zM46 1056h2v2h-2zM48 1058h2v2h-2zM68 1056h2v2h-2zM66 1058h2v2h-2zM46 1078h2v2h-2zM48 1076h2v2h-2zM68 1078h2v2h-2zM66 1076h2v2h-2z"/></g>
</svg>
<ul class="side">
<li style="top:0px;height:98px"><span style="top:8px">分</span><span style="top:36px">时</span><span style="top:64px">图</span></li>
<li class="on" style="top:98px;height:92px"><span style="top:8px"><i>K</i></span><span style="top:36px">线</span><span style="top:64px">图</span></li>
<li style="top:190px;height:104px"><span style="top:14px">闪</span><span style="top:42px">电</span><span style="top:70px">图</span></li>
<li class="sep" style="top:294px"></li>
<li style="top:296px;height:128px"><span style="top:12px">合</span><span style="top:40px">约</span><span style="top:68px">资</span><span style="top:96px">料</span></li>
</ul>
<div class="period"><b>60<span>分</span></b><i></i></div>
<ul class="tabs">
<li class="c" style="left:0px;width:80px"><span>指标</span></li>
<li class="c" style="left:80px;width:80px"><span>模板</span></li>
<li class="c on" style="left:162px;width:114px"><span><em>VIP</em>指标</span></li>
<li style="left:276px;width:152px"><span>BARUPDN_UD</span></li>
<li style="left:428px;width:116px"><span>BIAS_UD</span></li>
<li style="left:544px;width:116px"><span>BOLL_UD</span></li>
<li style="left:660px;width:104px"><span>CCI_UD</span></li>
<li style="left:764px;width:104px"><span>DMI_UD</span></li>
<li style="left:868px;width:140px"><span>INSIDE_UD</span></li>
<li style="left:1008px;width:56px"><span>&gt;&gt;</span></li>
<li class="rest" style="left:1064px"></li>
</ul>
<div class="wm">1QH.CN</div>
</main>
</body>
</html>
